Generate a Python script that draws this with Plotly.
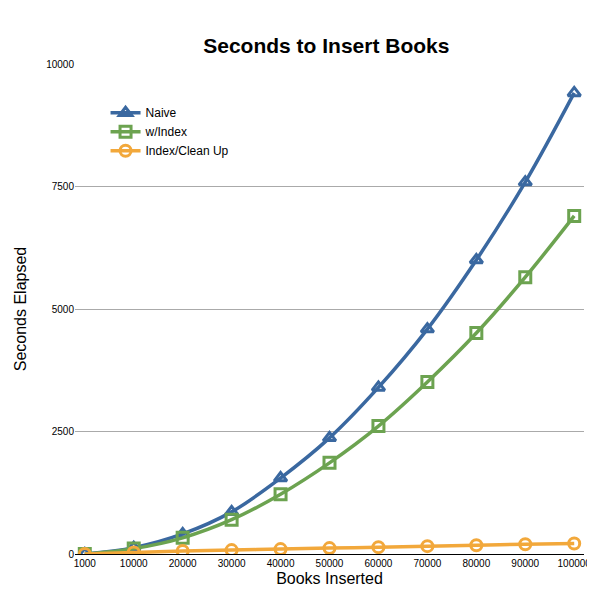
import plotly.graph_objects as go

books = ["1000","10000","20000","30000","40000","50000","60000","70000","80000","90000","100000"]
naive = [0, 130, 410, 860, 1550, 2370, 3400, 4590, 6000, 7590, 9410]
windex = [0, 110, 330, 700, 1220, 1860, 2610, 3510, 4510, 5650, 6900]
cleanup = [0, 30, 60, 80, 100, 120, 140, 160, 180, 200, 215]
ytick_vals = [0, 2500, 5000, 7500, 10000]
ytick_text = ["0", "2500", "5000", "7500", "10000"]

fig = go.Figure()
for name, ys, col, sym in [("Naive", naive, "#3a68a0", "triangle-up-open"),
                           ("w/Index", windex, "#6ca350", "square-open"),
                           ("Index/Clean Up", cleanup, "#f2a83b", "circle-open")]:
    fig.add_trace(go.Scatter(x=books, y=ys, name=name, mode="lines+markers",
                             line=dict(color=col, width=3.5, shape="spline"),
                             marker=dict(symbol=sym, size=11, color=col, line=dict(width=3, color=col))))

fig.update_layout(
    width=595, height=604, plot_bgcolor="white", paper_bgcolor="white",
    margin=dict(l=60, r=17, t=56, b=58),
    font=dict(family="Liberation Sans, Arial, sans-serif", color="black"),
    title=dict(text="<b>Seconds to Insert Books</b>", x=0.535, xanchor="center", y=0.937, yanchor="middle",
               font=dict(size=21)),
    legend=dict(x=0.06, y=0.93, xanchor="left", yanchor="top", bgcolor="rgba(0,0,0,0)", font=dict(size=12),
                itemwidth=30, tracegroupgap=0),
    xaxis=dict(title=dict(text="Books Inserted", font=dict(size=16), standoff=4), showgrid=False,
               showline=True, linecolor="black", linewidth=1, ticks="", tickfont=dict(size=10), range=[-0.2, 10.2]),
    yaxis=dict(title=dict(text="Seconds Elapsed", font=dict(size=16)), range=[0, 10000],
               tickvals=ytick_vals, ticktext=ytick_text, showgrid=True, gridcolor="#aaaaaa",
               zeroline=False, tickfont=dict(size=10)),
)
fig.write_html("out.html")
